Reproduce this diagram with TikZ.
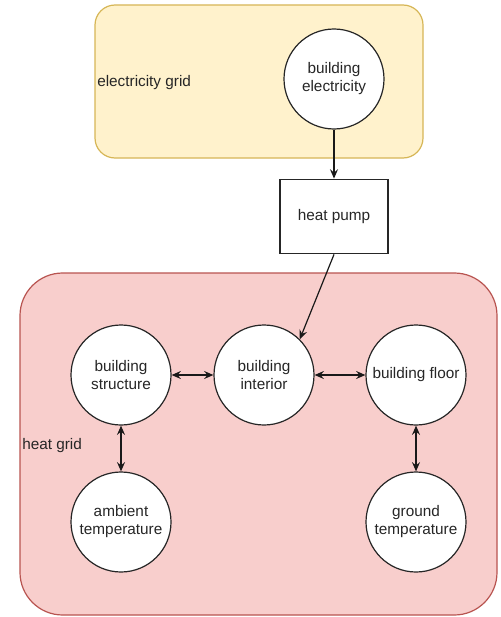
\documentclass[tikz,border=0pt]{standalone}
\usepackage{fontspec}
\setmainfont{Liberation Sans}
\usetikzlibrary{arrows.meta}
\definecolor{elecfill}{HTML}{FFF2CC}
\definecolor{elecline}{HTML}{D6B656}
\definecolor{heatfill}{HTML}{F8CECC}
\definecolor{heatline}{HTML}{B85450}
\tikzset{
  txt/.style={font=\fontsize{11.5}{13.5}\selectfont, text=black!85},
  circ/.style={txt, circle, draw=black!85, line width=0.9pt, fill=white,
    minimum size=75pt, inner sep=0pt, align=center},
  boxnode/.style={txt, rectangle, draw=black!85, line width=0.9pt, fill=white,
    minimum width=81pt, minimum height=56pt, align=center},
  grid/.style={line width=0.9pt},
  tip/.tip={Stealth[length=7pt, width=6pt, inset=2.5pt]},
  flow/.style={-tip, line width=0.9pt, draw=black!90},
  both/.style={tip-tip, line width=0.9pt, draw=black!90},
}
\begin{document}
\begin{tikzpicture}[x=0.75pt, y=-0.75pt]
\useasboundingbox (0,0) rectangle (500,617);

% grid areas
\draw[grid, fill=elecfill, draw=elecline, rounded corners=15pt] (95,5) rectangle (423,158);
\draw[grid, fill=heatfill, draw=heatline, rounded corners=32pt] (20,273) rectangle (497,615);
\node[txt, anchor=west, inner sep=0pt] (elabel) at (97,83) {electricity grid};
\node[txt, anchor=west, inner sep=0pt] (hlabel) at (22,446) {heat grid};

% components
\node[circ] (belec) at (334,79) {building\\electricity};
\node[boxnode] (hp) at (334,216.5) {heat pump};
\node[circ] (bstruct) at (121,375) {building\\structure};
\node[circ] (binter) at (264,375) {building\\interior};
\node[circ] (bfloor) at (416,375) {building floor};
\node[circ] (amb) at (121,522) {ambient\\temperature};
\node[circ] (ground) at (416,522) {ground\\temperature};

% connectors
\draw[flow] (belec.south) -- (hp.north);
\draw[flow] (hp.south) -- (binter.45);
\draw[both] (bstruct.east) -- (binter.west);
\draw[both] (binter.east) -- (bfloor.west);
\draw[both] (bstruct.south) -- (amb.north);
\draw[both] (bfloor.south) -- (ground.north);
\end{tikzpicture}
\end{document}
